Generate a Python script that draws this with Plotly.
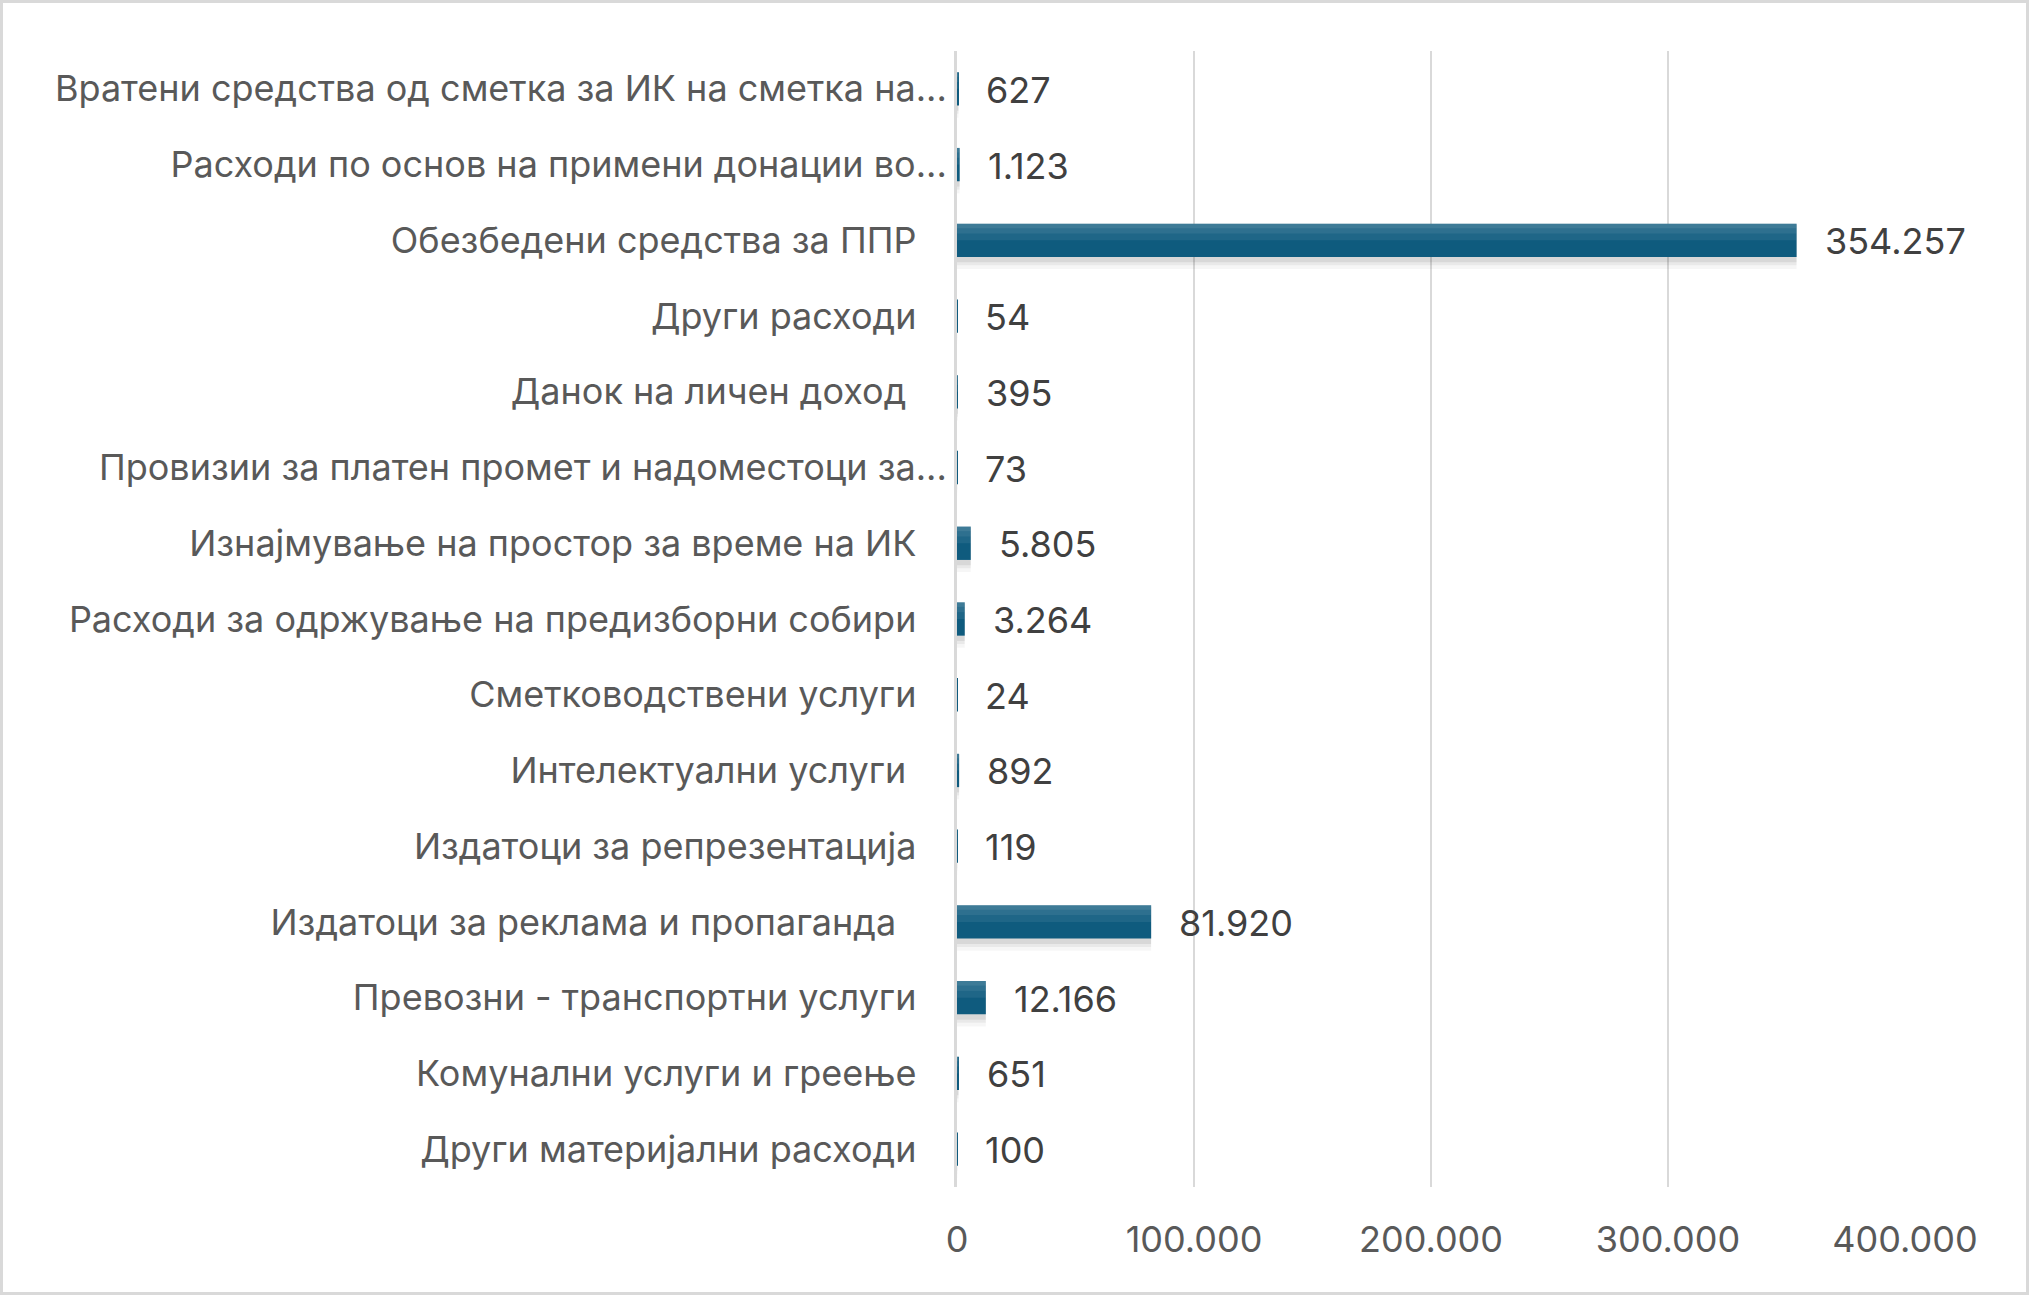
import plotly.graph_objects as go

categories = [
    "Вратени средства од сметка за ИК на сметка на...",
    "Расходи по основ на примени донации во...",
    "Обезбедени средства за ППР",
    "Други расходи",
    "Данок на личен доход ",
    "Провизии за платен промет и надоместоци за...",
    "Изнајмување на простор за време на ИК",
    "Расходи за одржување на предизборни собири",
    "Сметководствени услуги",
    "Интелектуални услуги ",
    "Издатоци за репрезентација",
    "Издатоци за реклама и пропаганда  ",
    "Превозни - транспортни услуги",
    "Комунални услуги и греење",
    "Други материјални расходи",
]
values = [627, 1123, 354257, 54, 395, 73, 5805, 3264, 24, 892, 119, 81920, 12166, 651, 100]
x_ticks = [0, 100000, 200000, 300000, 400000]
x_tick_labels = ["0", "100.000", "200.000", "300.000", "400.000"]

W, H = 2029, 1295
ML, MR, MT, MB = 957, 124, 51, 108
FONT = "Inter"
FS = 36
NB = "\u00a0"
BW = 0.44          # bar thickness in category units
B0 = -BW / 2       # top edge offset


def pad_label(s):
    if s.endswith("..."):
        return s
    s = s.replace(" ", NB) if s.endswith(" ") else s
    return s + NB * 3


def fmt(v):
    return f"{v:,}".replace(",", ".")


fig = go.Figure()


def layer(width, offset, color):
    fig.add_trace(go.Bar(
        y=categories, x=values, orientation="h",
        width=width, offset=offset,
        marker=dict(color=color, line=dict(width=0)),
        hoverinfo="skip", showlegend=False,
    ))


# blurred drop shadow (stacked translucent layers)
layer(BW + 0.14, B0 + 0.02, "rgba(0,0,0,0.035)")
layer(BW + 0.09, B0 + 0.02, "rgba(0,0,0,0.05)")
layer(BW + 0.05, B0 + 0.02, "rgba(0,0,0,0.07)")
# main bar
fig.add_trace(go.Bar(
    y=categories, x=values, orientation="h",
    width=BW, offset=B0,
    marker=dict(color="#0f5b7e", line=dict(width=0)),
    showlegend=False,
))
# top highlight (vertical gradient approximation)
layer(0.22, B0, "rgba(255,255,255,0.07)")
layer(0.13, B0, "rgba(255,255,255,0.07)")
layer(0.06, B0, "rgba(255,255,255,0.08)")

for c, v in zip(categories, values):
    fig.add_annotation(
        x=v, y=c, xref="x", yref="y", text=fmt(v), showarrow=False,
        xanchor="left", xshift=26, yshift=-1,
        font=dict(family=FONT, size=FS, color="#404040"),
    )

plot_w = W - ML - MR
plot_h = H - MT - MB
fig.add_shape(
    type="rect", xref="paper", yref="paper",
    x0=-(ML - 1.5) / plot_w, x1=1 + (MR - 1.5) / plot_w,
    y0=-(MB - 1.5) / plot_h, y1=1 + (MT - 1.5) / plot_h,
    line=dict(color="#d9d9d9", width=3), layer="below",
)

fig.update_layout(
    width=W, height=H,
    margin=dict(l=ML, r=MR, t=MT, b=MB),
    paper_bgcolor="white", plot_bgcolor="white",
    barmode="overlay",
    separators=",.",
    font=dict(family=FONT, size=FS, color="#595959"),
    xaxis=dict(
        range=[0, 400000], tickvals=x_ticks, ticktext=x_tick_labels,
        showgrid=True, gridcolor="#d9d9d9", gridwidth=2,
        zeroline=False, showline=False, ticks="",
        ticklabelstandoff=28,
        tickfont=dict(family=FONT, size=FS, color="#595959"),
    ),
    yaxis=dict(
        autorange="reversed",
        tickvals=categories, ticktext=[pad_label(c) for c in categories],
        showgrid=False, zeroline=False,
        showline=True, linecolor="#d9d9d9", linewidth=3,
        ticks="", ticklabelstandoff=0,
        tickfont=dict(family=FONT, size=FS, color="#595959"),
    ),
)

fig.write_html("out.html")
